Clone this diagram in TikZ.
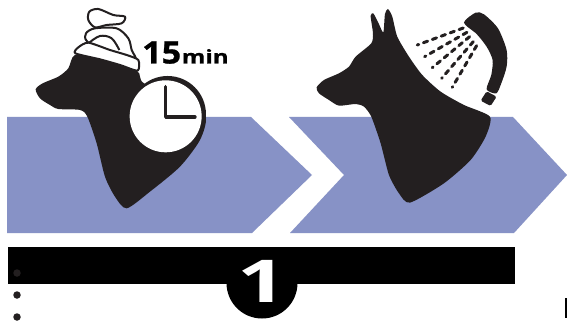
\documentclass[tikz,border=0pt]{standalone}
\usepackage{fontspec}
\setmainfont{Liberation Sans}
\newfontfamily\heavy{Open Sans}
\newfontfamily\heavier[BoldFeatures={FakeBold=0.8}]{Open Sans}
\definecolor{arrowblue}{HTML}{8792C6}
\definecolor{ink}{HTML}{231F20}
\tikzset{
  chevron/.style={fill=arrowblue,draw=none},
  sil/.style={fill=ink,draw=none},
  towel/.style={fill=white,draw=ink,line width=2pt,line join=round},
  spray/.style={draw=ink,line width=3pt,line cap=round,dash pattern=on 4.5pt off 5pt},
  bullet/.style={circle,fill=ink,draw=none,minimum size=7.5pt,inner sep=0pt},
  px/.style={x=0.3333pt,y=-0.3333pt}
}
\begin{document}
\begin{tikzpicture}[x=1pt,y=-1pt]
\useasboundingbox (0,0) rectangle (567,323);
\fill[white] (0,0) rectangle (567,323);
% chevrons
\fill[chevron] (7,117) -- (251,117) -- (312,175) -- (252,233) -- (7,233) -- cycle;
\fill[chevron] (289,117) -- (513,117) -- (567,175) -- (514,233) -- (290,233) -- (344,175) -- cycle;
% left dog
\begin{scope}[px]
\fill[sil] plot[smooth cycle,tension=.45] coordinates {(107,268) (128,250) (175,230) (205,205) (225,165) (300,178) (410,212) (432,250) (560,300) (617,350) (600,420) (540,500) (450,575) (380,625) (345,590) (315,530) (290,430) (262,350) (240,330) (175,327) (150,315) (120,295)};
\draw[towel] plot[smooth cycle,tension=.5] coordinates {(285,82) (265,60) (268,35) (295,27) (340,45) (375,50) (365,70) (320,75)};
\draw[towel] plot[smooth cycle,tension=.5] coordinates {(262,125) (258,100) (285,85) (350,85) (385,115) (395,150) (405,180) (330,170)};
\draw[ink,line width=2pt] plot[smooth,tension=.6] coordinates {(268,128) (300,108) (335,115) (358,150)};
\draw[towel] plot[smooth cycle,tension=.4] coordinates {(226,160) (235,142) (265,128) (330,150) (380,165) (415,180) (413,212) (360,195) (300,178)};
\fill[ink] (503,343) circle (115);
\fill[white] (497,349) circle (108);
\draw[ink,line width=3.4pt,line cap=round,line join=round] (497,260) -- (497,351) -- (585,351);
\end{scope}
\node[anchor=base west,inner sep=0pt,xscale=1.1,font=\heavier\bfseries\fontsize{31}{31}\selectfont] (fifteen) at (142,63.5) {15};
\node[anchor=base west,inner sep=0pt,xscale=1.27,font=\heavier\bfseries\fontsize{19}{19}\selectfont] (mins) at (181.5,63.5) {min};
% right dog
\begin{scope}[px,shift={(852,0)}]
\fill[sil] plot[smooth cycle,tension=.4] coordinates {(98,262) (120,240) (165,220) (195,200) (215,170) (262,130) (267,100) (260,48) (268,40) (283,68) (298,97) (303,42) (312,27) (325,50) (340,110) (375,170) (415,225) (470,275) (540,315) (618,350) (605,410) (560,480) (480,550) (378,608) (345,580) (315,525) (290,430) (262,350) (240,320) (215,312) (165,317) (135,300) (105,280)};
\fill[sil] plot[smooth cycle,tension=.45] coordinates {(540,68) (575,38) (600,43) (642,85) (668,150) (668,200) (652,250) (637,280) (608,268) (622,225) (626,180) (608,140) (578,102)};
\fill[sil,rounded corners=1.5pt] (608,274) -- (638,290) -- (620,318) -- (590,302) -- cycle;
\draw[spray] (538,84) -- (400,135);
\draw[spray] (549,97) -- (422,170);
\draw[spray] (557,110) -- (445,203);
\draw[spray] (568,125) -- (473,235);
\draw[spray] (578,137) -- (505,262);
\end{scope}
% bottom band
\node[circle,fill=black,minimum size=71pt,inner sep=0pt] (disc) at (262,283) {};
\fill[black] (8,247) rectangle (515,284);
\node[bullet] (b1) at (17,273) {};
\node[bullet] (b2) at (17,295) {};
\node[bullet] (b3) at (17,317) {};
\begin{scope}
\clip (238,255) -- (274,255) -- (274,304) -- (254,304) -- (254,285) -- (238,285) -- cycle;
\node[text=white,anchor=base,inner sep=0pt,xscale=1.45,font=\heavy\bfseries\fontsize{59}{59}\selectfont] (one) at (262,302) {1};
\end{scope}
\fill[black] (565,298) rectangle (567,318);
\end{tikzpicture}
\end{document}
